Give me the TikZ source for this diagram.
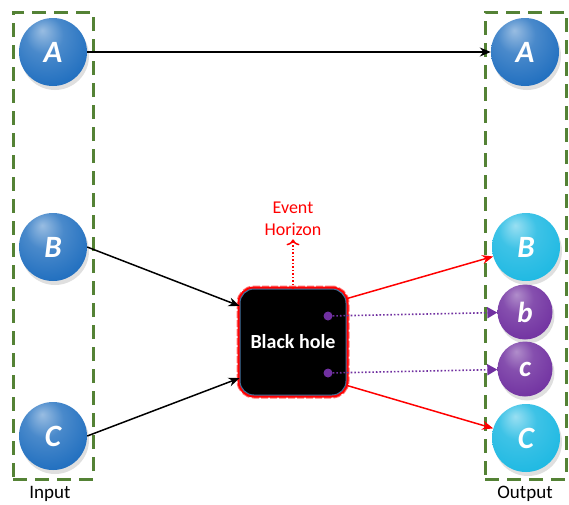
\documentclass[tikz,border=0pt]{standalone}
\usepackage{fontspec}
\setmainfont{Carlito}
\usetikzlibrary{arrows.meta,shadows}
\definecolor{groupgreen}{RGB}{84,130,53}
\definecolor{ballblue}{RGB}{28,108,190}
\definecolor{ballcyan}{RGB}{28,184,226}
\definecolor{ballpurple}{RGB}{112,48,160}
\definecolor{holeblue}{RGB}{65,113,156}

% glossy spheres, light from the top left
\pgfdeclareradialshading{blueball}{\pgfpoint{-8bp}{16bp}}{%
  color(0bp)=(ballblue!45!white); color(14bp)=(ballblue!80!white);
  color(36bp)=(ballblue); color(66bp)=(ballblue!65!black)}
\pgfdeclareradialshading{cyanball}{\pgfpoint{-8bp}{16bp}}{%
  color(0bp)=(ballcyan!45!white); color(14bp)=(ballcyan!85!white);
  color(36bp)=(ballcyan); color(66bp)=(ballcyan!70!black)}
\pgfdeclareradialshading{purpleball}{\pgfpoint{-8bp}{16bp}}{%
  color(0bp)=(ballpurple!55!white); color(14bp)=(ballpurple!85!white);
  color(36bp)=(ballpurple); color(66bp)=(ballpurple!65!black)}

\begin{document}
\begin{tikzpicture}[x=1pt,y=-1pt,
  group/.style={draw=groupgreen,line width=3pt,dash pattern=on 14pt off 8pt,
    inner sep=0pt},
  grouplabel/.style={font=\fontsize{19}{19}\selectfont},
  ball/.style={circle,inner sep=0pt,minimum size=68pt,text=white,
    font=\fontsize{31}{31}\selectfont\bfseries\itshape,
    drop shadow={shadow xshift=2pt,shadow yshift=-4pt,opacity=.25}},
  smallball/.style={ball,minimum size=55pt,font=\fontsize{29}{29}\selectfont\bfseries\itshape},
  hole/.style={rectangle,rounded corners=14pt,minimum width=106pt,minimum height=106pt,
    fill=black,draw=holeblue,line width=1pt,text=white,
    font=\fontsize{20}{20}\selectfont\bfseries,
    preaction={draw=red!55,dotted,line width=7pt},
    preaction={draw=red,line width=5pt}},
  pdot/.style={circle,fill=ballpurple,inner sep=0pt,minimum size=9pt},
  link/.style={line width=1.5pt,-{Stealth[length=11pt,width=9pt]}},
  redlink/.style={link,color=red},
  purplelink/.style={dotted,line width=1.6pt,
    -{Triangle[length=10pt,width=11pt]},color=ballpurple}]
\useasboundingbox (0,0) rectangle (569,504);

% input and output groups
\node[group,minimum width=80pt,minimum height=467pt] (inbox) at (53,245.5) {};
\node[group,minimum width=81pt,minimum height=467pt] (outbox) at (525.5,245.5) {};
\node[grouplabel] (inlbl) at (50,494) {Input};
\node[grouplabel] (outlbl) at (525,494) {Output};

\node[ball,shading=blueball] (inA) at (53,52) {A};
\node[ball,shading=blueball] (inB) at (53,247) {B};
\node[ball,shading=blueball] (inC) at (53,436) {C};

\node[ball,shading=blueball] (outA) at (525,52) {A};
\node[ball,shading=cyanball] (outB) at (526,247) {B};
\node[smallball,shading=purpleball] (outb) at (525,312) {b};
\node[smallball,shading=purpleball] (outc) at (525,369) {c};
\node[ball,shading=cyanball] (outC) at (526,438) {C};

% the black hole
\node[hole] (bh) at (293,342) {Black hole};
\node[pdot] (dotb) at (328,316) {};
\node[pdot] (dotc) at (328,373) {};
\node[text=red,align=center,font=\fontsize{18}{22}\selectfont] (eh) at (293,219)
  {Event\\Horizon};

\draw[red,dotted,line width=1.5pt,-{To[length=6pt,width=13pt]}] (bh.north) -- (eh.south);

\draw[link] (inA.east) -- (outA.west);
\draw[link] (inB.east) -- (bh.146);
\draw[link] (inC.east) -- (bh.214);

\draw[redlink] (bh.39) -- (outB);
\draw[redlink] (bh.-39) -- (outC);
\draw[purplelink] (dotb) -- (outb);
\draw[purplelink] (dotc) -- (outc);
\end{tikzpicture}
\end{document}
